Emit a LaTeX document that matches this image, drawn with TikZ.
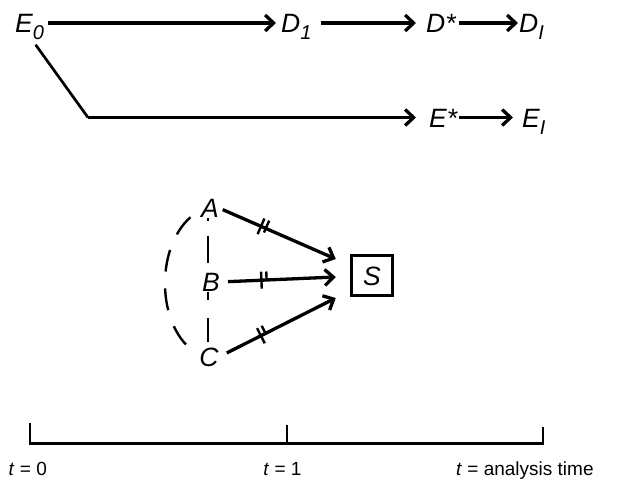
\documentclass[tikz,border=0pt]{standalone}
\usepackage{fontspec}
\setmainfont{Liberation Sans}
\usetikzlibrary{arrows.meta,decorations.markings}
\newcommand{\sbs}[1]{\raisebox{-7pt}{\fontsize{20}{20}\selectfont\textit{#1}}}
\tikzset{
  lab/.style={font=\fontsize{26.5}{30}\selectfont\itshape, inner sep=0pt, text height=19pt, text depth=0pt},
  arr/.style={line width=3.3pt, -{Straight Barb[length=8.5pt,width=16pt,line width=3.3pt]}},
  plainline/.style={line width=2.7pt},
  dsh/.style={line width=2.4pt, dash pattern=on 22pt off 17pt},
  dbltick/.style={postaction={decorate}, decoration={markings, mark=at position 0.38 with {\draw[line width=2.4pt, arrows=-] (-2.6pt,-8.5pt) -- (-2.6pt,8.5pt) (2.6pt,-8.5pt) -- (2.6pt,8.5pt);}}},
  tl/.style={font=\fontsize{19}{22}\selectfont, inner sep=0pt}
}
\begin{document}
\begin{tikzpicture}[x=1pt,y=-1pt]
\useasboundingbox (0,0) rectangle (619,479);
% top row
\node[lab, anchor=base west] (E0) at (15,32.5) {E\sbs{0}};
\node[lab, anchor=base west] (D1) at (281,32.5) {D\sbs{1}};
\node[lab, anchor=base west] (Ds) at (426,32.5) {D*};
\node[lab, anchor=base west] (DI) at (519,32.5) {D\sbs{I}};
\node[lab, anchor=base west] (Es) at (429,127) {E*};
\node[lab, anchor=base west] (EI) at (522,127) {E\sbs{I}};
\draw[arr, shorten <=3.5pt, shorten >=5pt] (E0.east) -- (D1.west);
\draw[arr, shorten <=9pt, shorten >=10pt] (D1.east) -- (Ds.west);
\draw[arr, shorten <=3pt, shorten >=1pt] (Ds.east) -- (DI.west);
\coordinate (bend) at (Es.west -| 88,0);
\draw[plainline] ([xshift=6pt,yshift=-12pt]E0.south) -- (bend);
\draw[arr, shorten >=13pt] (bend) -- (Es.west);
\draw[arr, shorten <=1.6pt, shorten >=9pt] (Es.east) -- (EI.west);
% middle
\node[lab] (A) at (210,208) {A};
\node[lab] (B) at (211,282) {B};
\node[lab] (C) at (209,357) {C};
\node[lab, draw, line width=3.5pt, minimum width=41pt, minimum height=40pt] (S) at (372,275.5) {S};
\draw[arr, dbltick, shorten <=4pt] (A.east) -- ([xshift=-14pt,yshift=16.5pt]S.west);
\draw[arr, dbltick, shorten <=8pt] (B.east) -- ([xshift=-14pt,yshift=-1.5pt]S.west);
\draw[arr, dbltick, shorten <=9pt] (C.east) -- ([xshift=-14pt,yshift=-22.5pt]S.west);
\draw[line width=2.4pt, dash pattern=on 3pt off 15pt on 27pt off 20pt] ([xshift=-2pt]A.south) -- ([xshift=-3pt]B.north);
\draw[line width=2.4pt, dash pattern=on 8.7pt off 18pt on 24pt off 20pt] ([xshift=-3pt]B.south) -- ([xshift=-1pt]C.north);
\draw[dsh, shorten <=14pt, shorten >=14pt] (A.west) to[bend right=48] (C.west);
% timeline
\coordinate (t0) at (30,443.5);
\coordinate (t1) at (287,443.5);
\coordinate (t2) at (543,443.5);
\draw[plainline] ([yshift=20.5pt]t0) -- (t0) -- (t2) -- ([yshift=17pt]t2);
\draw[plainline] ([yshift=18.5pt]t1) -- (t1);
\node[tl, anchor=base west] (l0) at (8.5,475) {\textit{t} = 0};
\node[tl, anchor=base] (l1) at (282.5,475) {\textit{t} = 1};
\node[tl, anchor=base west] (l2) at (456,475) {\textit{t} = analysis time};
\end{tikzpicture}
\end{document}
